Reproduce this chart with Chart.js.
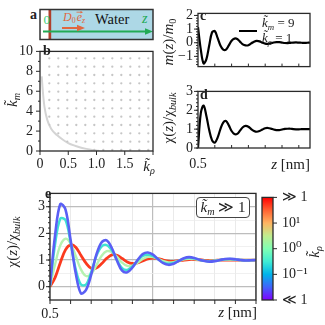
<!DOCTYPE html>
<html>
<head>
<meta charset="utf-8">
<script src="https://cdn.jsdelivr.net/npm/chart.js@4.4.1/dist/chart.umd.min.js"></script>
<style>
  body { margin: 0; background: #fff; width: 325px; height: 325px; position: relative; overflow: hidden;
         font-family: 'Liberation Serif', 'DejaVu Serif', serif; color: #222; }
  canvas { position: absolute; }
  .t { position: absolute; white-space: nowrap; line-height: 1; }
  .c { transform: translate(-50%, -50%); }
  .rot { transform: translate(-50%, -50%) rotate(-90deg); }
  .pl { font-weight: bold; font-size: 14px; }
  .ttl { font-size: 15px; }
  sub { font-size: 68%; vertical-align: -0.3em; line-height: 0; }
  .box { position: absolute; left: 196px; top: 197px; width: 52px; height: 19px; border: 1.3px solid #444;
         border-radius: 4px; background: #fff; font-size: 15px; text-align: center; line-height: 19px; }
</style>
</head>
<body>

<!-- panel a: schematic -->
<svg width="160" height="45" style="position:absolute;left:0;top:0">
  <rect x="51" y="9.5" width="102" height="30" fill="#add8e6"/>
  <rect x="48.5" y="9.5" width="2.7" height="30" fill="#b0402c"/>
  <line x1="43" y1="31.5" x2="146" y2="31.5" stroke="#22aa55" stroke-width="1.8"/>
  <polygon points="145,28.3 153,31.5 145,34.7" fill="#22aa55"/>
  <line x1="62" y1="28" x2="78" y2="28" stroke="#e0673f" stroke-width="2"/>
  <polygon points="77,24.8 85,28 77,31.2" fill="#e0673f"/>
  <rect x="40" y="9.5" width="113" height="30" fill="none" stroke="#333" stroke-width="1.5"/>
  <text x="30" y="19" font-size="14" font-weight="bold" font-family="Liberation Serif, serif" fill="#222">a</text>
  <text x="43.5" y="24" font-size="13" font-family="Liberation Serif, serif" fill="#3ccf78">0</text>
  <text x="63" y="21" font-size="12" font-family="Liberation Serif, serif" fill="#e0673f"><tspan font-style="italic">D</tspan><tspan font-size="8" dy="2">0</tspan><tspan dy="-2" dx="1" font-style="italic">e</tspan><tspan font-size="8" dy="2" font-style="italic">z</tspan></text>
  <line x1="76.5" y1="12.2" x2="81.5" y2="12.2" stroke="#e0673f" stroke-width="0.8"/>
  <polygon points="80.5,10.9 83,12.2 80.5,13.5" fill="#e0673f"/>
  <text x="95" y="24" font-size="14.5" font-family="Liberation Serif, serif" fill="#111">Water</text>
  <text x="142" y="23" font-size="14" font-style="italic" font-family="Liberation Serif, serif" fill="#22aa55">z</text>
</svg>

<canvas id="cb" width="160" height="140" style="left:0;top:36px"></canvas>
<canvas id="cc" width="160" height="80" style="left:160px;top:0"></canvas>
<canvas id="cd" width="160" height="100" style="left:160px;top:78px"></canvas>
<canvas id="ce" width="262" height="145" style="left:0;top:180px"></canvas>
<canvas id="cbar" width="70" height="145" style="left:255px;top:180px"></canvas>

<!-- panel letters -->
<div class="t pl" style="left:43px;top:44px">b</div>
<div class="t pl" style="left:200px;top:9px">c</div>
<div class="t pl" style="left:200px;top:88px">d</div>
<div class="t pl" style="left:45px;top:187px">e</div>

<!-- axis titles -->
<div class="t ttl rot" style="left:12px;top:100px"><i>k&#x303;</i><sub><i>m</i></sub></div>
<div class="t ttl c" style="left:149px;top:166px"><i>k&#x303;</i><sub><i>&rho;</i></sub></div>
<div class="t ttl rot" style="left:168px;top:42px"><i>m</i>(<i>z</i>)/<i>m</i><sub>0</sub></div>
<div class="t ttl rot" style="left:168px;top:118px">&chi;(<i>z</i>)/&chi;<sub><i>bulk</i></sub></div>
<div class="t ttl" style="right:15px;top:157px"><i>z</i> [nm]</div>
<div class="t ttl rot" style="left:12px;top:242px">&chi;(<i>z</i>)/&chi;<sub><i>bulk</i></sub></div>
<div class="t ttl" style="right:68px;top:305px"><i>z</i> [nm]</div>
<div class="t ttl rot" style="left:314px;top:252px"><i>k&#x303;</i><sub><i>&rho;</i></sub></div>

<!-- legend of panel c -->
<div style="position:absolute;left:239px;top:29.5px;width:18px;height:2.6px;background:#000"></div>
<div class="t" style="left:262px;top:16px;font-size:13px"><i>k&#x303;</i><sub><i>m</i></sub> = 9</div>
<div class="t" style="left:262px;top:31px;font-size:13px"><i>k&#x303;</i><sub><i>&rho;</i></sub> = 1</div>

<!-- annotation of panel e -->
<div class="box"><i>k&#x303;</i><sub><i>m</i></sub> &#8811; 1</div>

<script>
// ---- data ----
const zGrid = [0.5, 0.525, 0.55, 0.575, 0.6, 0.625, 0.65, 0.675, 0.7, 0.725, 0.75, 0.775, 0.8, 0.825, 0.85, 0.875,
               0.9, 0.925, 0.95, 0.975, 1.0, 1.025, 1.05, 1.075, 1.1, 1.125, 1.15, 1.175, 1.2, 1.225, 1.25, 1.275,
               1.3, 1.325, 1.35, 1.375, 1.4, 1.425, 1.45, 1.475, 1.5];

// panel b: boundary of the dotted region
const bKrho = [0.03, 0.05, 0.08, 0.13, 0.2, 0.3, 0.4, 0.5, 0.6, 0.7, 0.8, 0.9, 1.0, 1.05];
const bKm   = [7.5, 6.0, 4.4, 3.1, 2.2, 1.6, 1.15, 0.8, 0.56, 0.38, 0.24, 0.13, 0.05, 0.0];
const bRightEdge = {x: 2.0, y: 0};

// panel c: m(z)/m0, panel d: chi(z)/chi_bulk  (k_m = 9, k_rho = 1)
const mC = [1.15, -0.5, -1.52, -1.2, -0.2, 0.75, 0.85, 0.35, -0.2, -0.5, -0.5, -0.2, 0.15, 0.3, 0.28, 0.08,
            -0.12, -0.2, -0.18, -0.05, 0.08, 0.14, 0.1, 0.0, -0.07, -0.08, -0.04, 0.02, 0.05, 0.04, 0.01, -0.02,
            -0.03, -0.01, 0.01, 0.02, 0.01, 0.0, -0.01, 0.0, 0.0];
const chiD = [0.0, 1.85, 2.25, 1.7, 0.95, 0.42, 0.28, 0.55, 1.0, 1.35, 1.43, 1.2, 0.9, 0.74, 0.75, 0.92,
              1.1, 1.17, 1.13, 1.0, 0.9, 0.86, 0.9, 0.98, 1.05, 1.06, 1.03, 0.98, 0.95, 0.95, 0.98, 1.01,
              1.02, 1.02, 1.0, 0.99, 0.99, 1.0, 1.0, 1.0, 1.0];

// panel e: chi(z)/chi_bulk for k_m >> 1, several k_rho
const chiBlue = [0.05, 1.95, 3.1, 2.9, 1.75, 0.5, -0.25, -0.12, 0.45, 1.2, 1.66, 1.74, 1.45, 0.98, 0.6, 0.54,
                 0.72, 1.0, 1.22, 1.28, 1.2, 1.03, 0.88, 0.82, 0.86, 0.97, 1.07, 1.11, 1.08, 1.01, 0.96, 0.94,
                 0.96, 1.0, 1.04, 1.05, 1.03, 1.0, 0.98, 0.99, 1.0];
const chiCyan = [0.05, 1.6, 2.55, 2.5, 1.65, 0.65, 0.08, 0.08, 0.55, 1.15, 1.5, 1.56, 1.36, 1.0, 0.7, 0.63,
                 0.76, 0.98, 1.15, 1.2, 1.15, 1.03, 0.9, 0.86, 0.89, 0.97, 1.05, 1.08, 1.06, 1.01, 0.97, 0.95,
                 0.97, 1.0, 1.03, 1.04, 1.02, 1.0, 0.99, 0.99, 1.0];
const chiGreen = [0.02, 0.85, 1.55, 1.8, 1.62, 1.15, 0.65, 0.4, 0.48, 0.8, 1.15, 1.33, 1.3, 1.12, 0.9, 0.78,
                  0.79, 0.9, 1.04, 1.12, 1.11, 1.04, 0.96, 0.91, 0.92, 0.97, 1.03, 1.05, 1.04, 1.0, 0.97, 0.97,
                  0.98, 1.0, 1.02, 1.02, 1.01, 1.0, 1.0, 1.0, 1.0];
const chiRed = [0.0, 0.35, 0.9, 1.38, 1.57, 1.48, 1.18, 0.88, 0.69, 0.7, 0.86, 1.06, 1.19, 1.18, 1.06, 0.93,
                0.87, 0.89, 0.97, 1.04, 1.07, 1.05, 1.0, 0.96, 0.95, 0.97, 1.0, 1.02, 1.02, 1.01, 0.99, 0.99,
                0.99, 1.0, 1.0, 1.0, 1.0, 1.0, 1.0, 1.0, 1.0];

// ticks
const bXTicks = [0, 0.5, 1.0, 1.5, 2.0];
const bYTicks = [0, 2, 4, 6, 8, 10];
const bYMinor = [1, 3, 5, 7, 9];
const cYTicks = [-1, 0, 1, 2];
const dYTicks = [0, 1, 2, 3];
const cdXInner = [0.65, 0.8, 0.95, 1.1, 1.25, 1.4];
const eXGrid = [0.5, 0.6, 0.7, 0.8, 0.9, 1.0, 1.1, 1.2, 1.3, 1.4, 1.5];
const eYGrid = [-0.5, 0, 0.5, 1, 1.5, 2, 2.5, 3, 3.5];
const eYTicks = [0, 1, 2, 3];
const cbValues = [0, 1, 2, 3, 4];
const cbLabels = ['\u226A 1', '10\u207B\u00B9', '10\u2070', '10\u00B9', '\u226B 1'];

function steps(a, b, s) {
  const out = [];
  for (let v = a; v <= b + 1e-9; v += s) out.push(Math.round(v * 100) / 100);
  return out;
}
const pts = (xs, ys) => xs.map((x, i) => ({x: x, y: ys[i]}));

// ---- shared look ----
Chart.defaults.font.family = "'Liberation Serif', 'DejaVu Serif', serif";
Chart.defaults.font.size = 14;
Chart.defaults.color = '#222';

const TICKS = {
  cb: [{axis: 'y', values: bYTicks, len: 4}, {axis: 'y', values: bYMinor, len: 2},
       {axis: 'x', values: bXTicks, len: 4}],
  cc: [{axis: 'y', values: cYTicks, len: 4}, {axis: 'y', values: steps(-1.6, 2.0, 0.2), len: 2},
       {axis: 'x', values: cdXInner, len: 3, dir: 'in'}],
  cd: [{axis: 'y', values: dYTicks, len: 4}, {axis: 'y', values: steps(0, 3, 0.2), len: 2},
       {axis: 'x', values: cdXInner, len: 3, dir: 'in'}],
  ce: [{axis: 'y', values: eYTicks, len: 4}, {axis: 'y', values: steps(-0.4, 3.4, 0.2), len: 2},
       {axis: 'x', values: eXGrid, len: 4}],
  cbar: [{axis: 'y', values: cbValues, len: 4, side: 'right'}]
};

// frame on all four sides plus matplotlib-like tick marks
const framePlugin = {
  id: 'frame',
  afterDraw(chart) {
    const a = chart.chartArea, c = chart.ctx;
    c.save();
    c.strokeStyle = '#2a2a2a';
    (TICKS[chart.canvas.id] || []).forEach(t => {
      const s = chart.scales[t.axis];
      c.lineWidth = 1;
      t.values.forEach(v => {
        const p = s.getPixelForValue(v);
        c.beginPath();
        if (t.axis === 'x') {
          const d = t.dir === 'in' ? -t.len : t.len;
          c.moveTo(p, a.bottom); c.lineTo(p, a.bottom + d);
        } else {
          const right = t.side === 'right';
          const x0 = right ? a.right : a.left;
          const d = (right ? 1 : -1) * (t.dir === 'in' ? -1 : 1) * t.len;
          c.moveTo(x0, p); c.lineTo(x0 + d, p);
        }
        c.stroke();
      });
    });
    c.lineWidth = 1.3;
    c.strokeRect(a.left, a.top, a.right - a.left, a.bottom - a.top);
    c.restore();
  }
};
Chart.register(framePlugin);

const base = {
  responsive: false,
  animation: false,
  events: [],
  plugins: {legend: {display: false}, tooltip: {enabled: false}}
};
const noGrid = {display: false, drawTicks: false};
const noBorder = {display: false};
const setTicks = arr => (s => { s.ticks = arr.map(v => ({value: v})); });

// ---- panel b ----
const tile = document.createElement('canvas');
tile.width = 9; tile.height = 25;
const tg = tile.getContext('2d');
tg.fillStyle = '#c6c6c6';
[5.67, 14, 22.33].forEach(y => { tg.beginPath(); tg.arc(4.3, y, 1.15, 0, Math.PI * 2); tg.fill(); });
const cbCanvas = document.getElementById('cb');
const dotPattern = cbCanvas.getContext('2d').createPattern(tile, 'repeat');

new Chart(cbCanvas, {
  type: 'line',
  data: {
    datasets: [
      {data: pts(bKrho, bKm).concat([bRightEdge]), fill: 'end', backgroundColor: dotPattern,
       borderColor: 'rgba(0,0,0,0)', borderWidth: 0, pointRadius: 0, cubicInterpolationMode: 'monotone'},
      {data: pts(bKrho, bKm), fill: false, borderColor: '#d4d4d4', borderWidth: 2, pointRadius: 0,
       cubicInterpolationMode: 'monotone'}
    ]
  },
  options: Object.assign({}, base, {
    layout: {padding: {top: 8, right: 7, left: 0, bottom: 0}},
    scales: {
      x: {type: 'linear', min: 0, max: 2.0, afterFit: s => { s.height = 25; }, afterBuildTicks: setTicks(bXTicks),
          grid: noGrid, border: noBorder,
          ticks: {padding: 5, autoSkip: false, maxRotation: 0,
                  callback: v => v === 0 ? '0' : (v === 2 ? '' : v.toFixed(1))}},
      y: {min: 0, max: 10, afterFit: s => { s.width = 40; }, afterBuildTicks: setTicks(bYTicks),
          grid: noGrid, border: noBorder, ticks: {padding: 7, autoSkip: false}}
    }
  })
});

// ---- panel c ----
new Chart(document.getElementById('cc'), {
  type: 'line',
  data: {datasets: [{data: pts(zGrid, mC), borderColor: '#000', borderWidth: 2.2, pointRadius: 0, tension: 0.35}]},
  options: Object.assign({}, base, {
    layout: {padding: {top: 13, right: 10, left: 0, bottom: 0}},
    scales: {
      x: {type: 'linear', min: 0.5, max: 1.5, afterFit: s => { s.height = 6; }, grid: noGrid, border: noBorder,
          ticks: {display: false}},
      y: {min: -1.75, max: 2.15, afterFit: s => { s.width = 38; }, afterBuildTicks: setTicks(cYTicks),
          grid: noGrid, border: noBorder,
          ticks: {padding: 5, autoSkip: false, callback: v => v < 0 ? '\u2212' + Math.abs(v) : String(v)}}
    }
  })
});

// ---- panel d ----
new Chart(document.getElementById('cd'), {
  type: 'line',
  data: {datasets: [{data: pts(zGrid, chiD), borderColor: '#000', borderWidth: 2.2, pointRadius: 0, tension: 0.35}]},
  options: Object.assign({}, base, {
    layout: {padding: {top: 8, right: 10, left: 0, bottom: 0}},
    scales: {
      x: {type: 'linear', min: 0.5, max: 1.5, afterFit: s => { s.height = 30; }, afterBuildTicks: setTicks([0.5]),
          grid: noGrid, border: noBorder, ticks: {padding: 8, autoSkip: false, maxRotation: 0, callback: v => v.toFixed(1)}},
      y: {min: 0, max: 3, afterFit: s => { s.width = 38; }, afterBuildTicks: setTicks(dYTicks),
          grid: noGrid, border: noBorder, ticks: {padding: 5, autoSkip: false}}
    }
  })
});

// ---- panel e ----
const eLine = (ys, color, w) => ({data: pts(zGrid, ys), borderColor: color, borderWidth: w, pointRadius: 0, tension: 0.35});
const isInt = v => Math.abs(v - Math.round(v)) < 1e-6;
const isHalf = v => Math.abs(v * 2 - Math.round(v * 2)) < 1e-6;
new Chart(document.getElementById('ce'), {
  type: 'line',
  data: {datasets: [
    eLine(chiBlue, '#5a5ff5', 2.6),
    eLine(chiCyan, '#3fe2d2', 2.4),
    eLine(chiGreen, '#b6f2b0', 2.4),
    eLine(chiRed, '#fb3a1e', 2.8)
  ]},
  options: Object.assign({}, base, {
    layout: {padding: {top: 8, right: 5, left: 0, bottom: 0}},
    scales: {
      x: {type: 'linear', min: 0.5, max: 1.5, afterFit: s => { s.height = 25; }, afterBuildTicks: setTicks(eXGrid),
          border: noBorder,
          grid: {drawTicks: false, color: c => isHalf(c.tick.value) ? '#bdbdbd' : '#e4e4e4',
                 lineWidth: c => isHalf(c.tick.value) ? 1.2 : 0.8},
          ticks: {padding: 6, autoSkip: false, maxRotation: 0,
                  callback: v => Math.abs(v - 0.5) < 1e-6 ? '0.5' : ''}},
      y: {min: -0.5, max: 3.5, afterFit: s => { s.width = 50; }, afterBuildTicks: setTicks(eYGrid),
          border: noBorder,
          grid: {drawTicks: false, color: c => isInt(c.tick.value) ? '#bdbdbd' : '#ececec',
                 lineWidth: c => isInt(c.tick.value) ? 1.2 : 0.8},
          ticks: {padding: 5, autoSkip: false, callback: v => (isInt(v) && v >= 0) ? String(v) : ''}}
    }
  })
});

// ---- colorbar ----
const rainbowStops = ['#8000ff', '#4062fa', '#00b4eb', '#40ecd4', '#80ffb4', '#c0ec8e', '#ffb462', '#ff6232', '#ff0000'];
new Chart(document.getElementById('cbar'), {
  type: 'bar',
  data: {labels: [''], datasets: [{data: [4], borderWidth: 0, barPercentage: 1, categoryPercentage: 1,
    backgroundColor: ctx => {
      const a = ctx.chart.chartArea;
      if (!a) return '#888';
      const g = ctx.chart.ctx.createLinearGradient(0, a.bottom, 0, a.top);
      rainbowStops.forEach((col, i) => g.addColorStop(i / (rainbowStops.length - 1), col));
      return g;
    }}]},
  options: Object.assign({}, base, {
    layout: {padding: {top: 8, right: 0, left: 7, bottom: 25}},
    scales: {
      x: {display: false},
      y: {position: 'right', min: 0, max: 4, afterFit: s => { s.width = 52; }, afterBuildTicks: setTicks(cbValues),
          grid: noGrid, border: noBorder,
          ticks: {padding: 9, autoSkip: false, callback: v => cbLabels[v]}}
    }
  })
});
</script>
</body>
</html>
